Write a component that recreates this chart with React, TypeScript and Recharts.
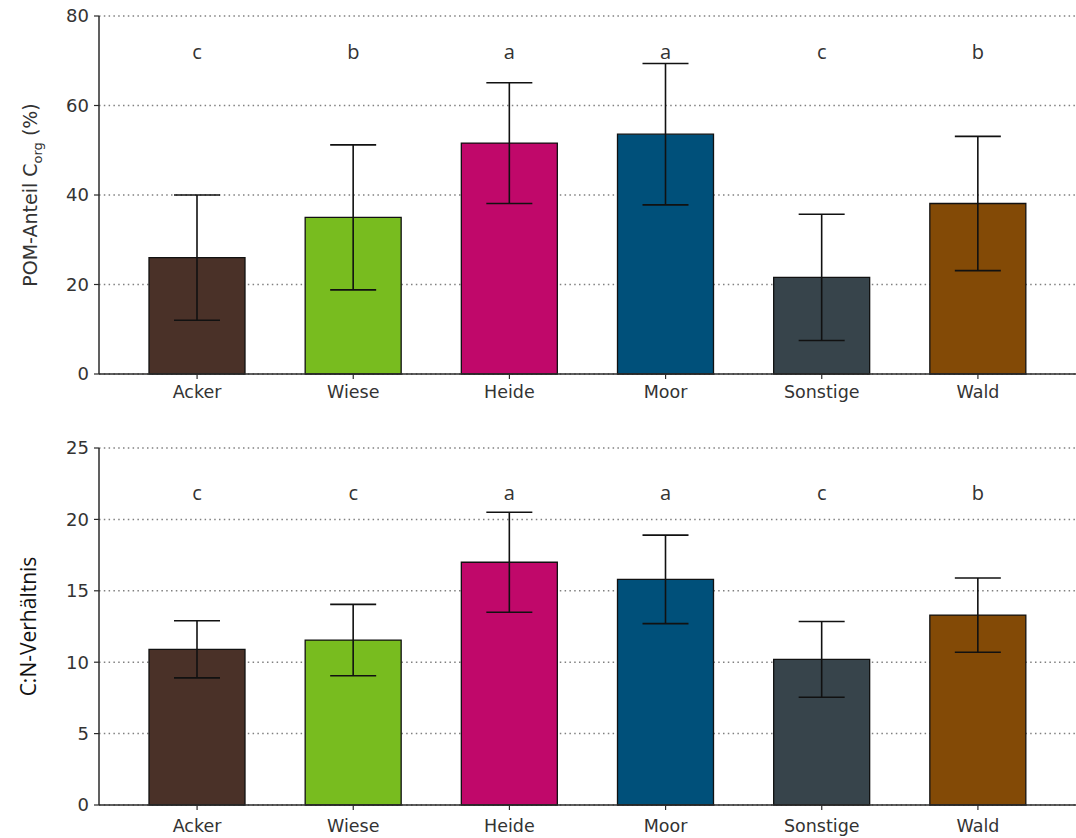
import { BarChart, Bar, XAxis, YAxis, CartesianGrid, ErrorBar, Cell, ReferenceDot } from 'recharts';

const categories = ['Acker', 'Wiese', 'Heide', 'Moor', 'Sonstige', 'Wald'];
const barColors = ['#4a3128', '#78bc1f', '#c0086a', '#00507a', '#37444b', '#834a06'];

const pomMeans = [26.0, 35.0, 51.6, 53.6, 21.6, 38.1];
const pomErrors = [14.0, 16.2, 13.5, 15.8, 14.1, 15.0];
const pomLetters = ['c', 'b', 'a', 'a', 'c', 'b'];
const pomTicks = [0, 20, 40, 60, 80];

const cnMeans = [10.9, 11.55, 17.0, 15.8, 10.2, 13.3];
const cnErrors = [2.0, 2.5, 3.5, 3.1, 2.65, 2.6];
const cnLetters = ['c', 'c', 'a', 'a', 'c', 'b'];
const cnTicks = [0, 5, 10, 15, 20, 25];

const textColor = '#333';
const axisColor = '#2b2b2b';

type PanelProps = {
  means: number[];
  errors: number[];
  letters: string[];
  ticks: number[];
  letterY: number;
  top: number;
  height: number;
  tickMargin: number;
  yLabel: (vb: any) => JSX.Element;
};

function Panel({ means, errors, letters, ticks, letterY, top, height, tickMargin, yLabel }: PanelProps) {
  const rows = categories.map((name, i) => ({ name, mean: means[i], err: errors[i] }));
  const max = ticks[ticks.length - 1];
  return (
    <div style={{ position: 'absolute', left: 0, top }}>
      <BarChart width={1076} height={height} data={rows} margin={{ top: 16, right: 0, bottom: 0, left: 0 }} barSize={96}>
        <CartesianGrid vertical={false} stroke="#808080" strokeDasharray="1.5 3.3" strokeWidth={1.5} />
        <XAxis
          dataKey="name"
          padding={{ left: 20, right: 20 }}
          tickSize={5}
          tickMargin={tickMargin}
          axisLine={{ stroke: axisColor, strokeWidth: 1.5 }}
          tickLine={{ stroke: axisColor, strokeWidth: 1.2 }}
          tick={{ fill: textColor, fontSize: 17.5, fontFamily: 'DejaVu Sans' }}
          height={34}
        />
        <YAxis
          domain={[0, max]}
          ticks={ticks}
          width={99}
          tickSize={5}
          tickMargin={5}
          axisLine={{ stroke: axisColor, strokeWidth: 1.5 }}
          tickLine={{ stroke: axisColor, strokeWidth: 1.2 }}
          tick={{ fill: textColor, fontSize: 18, fontFamily: 'DejaVu Sans' }}
          label={(p: any) => yLabel(p.viewBox)}
        />
        <Bar dataKey="mean" stroke="#111" strokeWidth={1.3} isAnimationActive={false}>
          {rows.map((r, i) => (
            <Cell key={r.name} fill={barColors[i]} />
          ))}
          <ErrorBar dataKey="err" width={23} stroke="#111" strokeWidth={1.6} isAnimationActive={false} />
        </Bar>
        {categories.map((c, i) => (
          <ReferenceDot
            key={c}
            x={c}
            y={letterY}
            r={1}
            fill="none"
            stroke="none"
            label={{ value: letters[i], position: 'center', fill: textColor, fontSize: 20, fontFamily: 'Open Sans' }}
          />
        ))}
      </BarChart>
    </div>
  );
}

const pomLabel = (vb: any) => {
  const cy = vb.y + vb.height / 2;
  return (
    <text
      transform={`translate(37, ${cy}) rotate(-90)`}
      textAnchor="middle"
      fill={textColor}
      fontSize={19}
      fontFamily="DejaVu Sans"
    >
      POM-Anteil C<tspan fontSize={13} dy={5}>org</tspan>
      <tspan dy={-5}> (%)</tspan>
    </text>
  );
};

const cnLabel = (vb: any) => {
  const cy = vb.y + vb.height / 2;
  return (
    <text
      transform={`translate(36, ${cy}) rotate(-90)`}
      textAnchor="middle"
      fill="#111"
      fontSize={21}
      fontFamily="Open Sans"
    >
      C:N-Verhältnis
    </text>
  );
};

export default function App() {
  return (
    <div style={{ position: 'absolute', left: 0, top: 0, width: 1076, height: 838, background: '#fff' }}>
      <Panel
        means={pomMeans}
        errors={pomErrors}
        letters={pomLetters}
        ticks={pomTicks}
        letterY={72}
        top={0}
        height={16 + 358 + 34}
        tickMargin={7}
        yLabel={pomLabel}
      />
      <Panel
        means={cnMeans}
        errors={cnErrors}
        letters={cnLetters}
        ticks={cnTicks}
        letterY={21.85}
        top={432}
        height={16 + 357 + 34}
        tickMargin={10}
        yLabel={cnLabel}
      />
    </div>
  );
}
